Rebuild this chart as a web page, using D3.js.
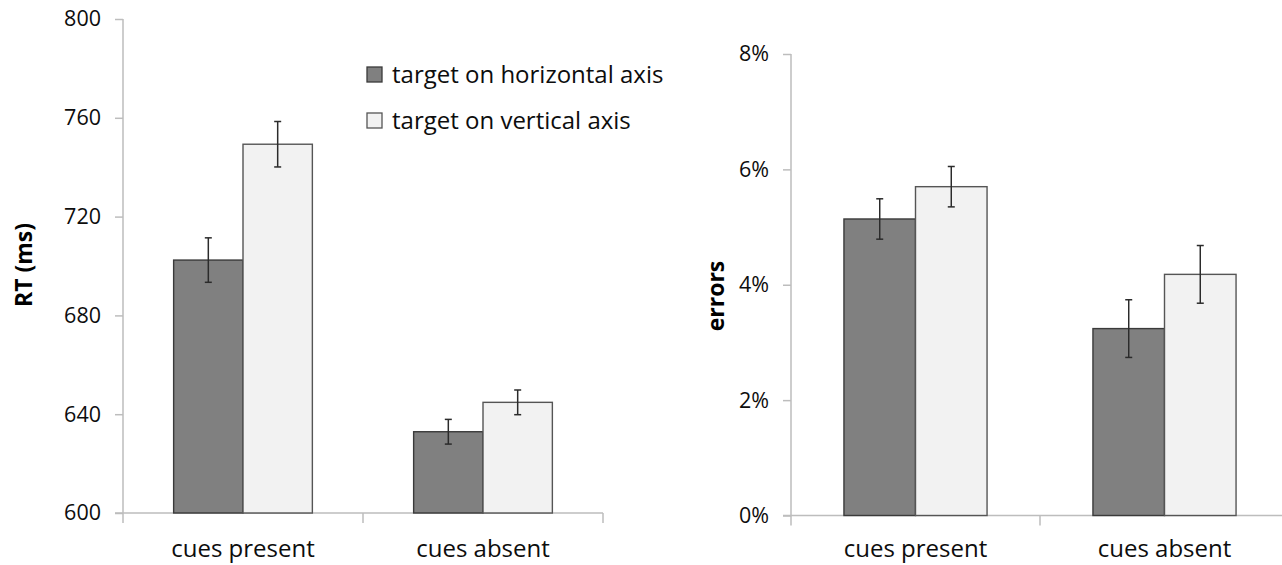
<!DOCTYPE html>
<html>
<head>
<meta charset="utf-8">
<script src="https://cdn.jsdelivr.net/npm/d3@7"></script>
<style>
  html, body { margin: 0; padding: 0; background: #fff; }
  svg { display: block; font-family: "Open Sans", "DejaVu Sans", sans-serif; }
</style>
</head>
<body>
<svg id="chart" width="1282" height="565"></svg>
<script>
// ---- data ----
const categories = ["cues present", "cues absent"];
const seriesNames = ["target on horizontal axis", "target on vertical axis"];
// RT (ms)
const rtHorizontal = [702.4, 632.9];
const rtVertical = [749.3, 644.8];
const rtHorizontalErr = [9, 5];
const rtVerticalErr = [9.2, 5];
const rtTicks = [600, 640, 680, 720, 760, 800];
// errors (proportion)
const errHorizontal = [0.0514, 0.0324];
const errVertical = [0.0570, 0.0418];
const errHorizontalErr = [0.0035, 0.0050];
const errVerticalErr = [0.0035, 0.0050];
const errTicks = [0, 0.02, 0.04, 0.06, 0.08];

const fills = ["#808080", "#f2f2f2"];
const strokes = ["#3a3a3a", "#555555"];
const axisColor = "#bdbdbd";
const textColor = "#0d0d0d";

const svg = d3.select("#chart");

function panel(opts) {
  const g = svg.append("g");
  const x0 = d3.scaleBand().domain(categories).range([opts.left, opts.right]).paddingInner(0).paddingOuter(0);
  const x1 = d3.scaleBand().domain([0, 1]).range([0, x0.bandwidth()]).paddingInner(0).paddingOuter(opts.outerPad);
  const y = d3.scaleLinear().domain(opts.domain).range([opts.bottom, opts.top]);

  // y axis line (extends below baseline)
  g.append("line")
    .attr("x1", opts.left).attr("x2", opts.left)
    .attr("y1", y(opts.domain[1])).attr("y2", y(opts.domain[0]) + 10)
    .attr("stroke", axisColor).attr("stroke-width", 1.5);

  const yAxis = d3.axisLeft(y).tickValues(opts.ticks).tickSize(8).tickPadding(14)
    .tickFormat(opts.fmt);
  const ya = g.append("g").attr("transform", `translate(${opts.left},0)`).call(yAxis);
  ya.select(".domain").remove();
  ya.selectAll(".tick line").attr("stroke", axisColor).attr("stroke-width", 1.5);
  ya.selectAll(".tick text").attr("fill", textColor).style("font-size", "21.5px")
    .style("font-family", '"Open Sans", sans-serif');

  // x axis line
  g.append("line")
    .attr("x1", opts.left - 8).attr("x2", opts.right)
    .attr("y1", y(opts.domain[0])).attr("y2", y(opts.domain[0]))
    .attr("stroke", axisColor).attr("stroke-width", 1.5);
  // x ticks at band boundaries
  const bounds = categories.map(c => x0(c) + x0.bandwidth());
  g.selectAll(".xt").data(bounds).enter().append("line")
    .attr("x1", d => d).attr("x2", d => d)
    .attr("y1", y(opts.domain[0])).attr("y2", y(opts.domain[0]) + 10)
    .attr("stroke", axisColor).attr("stroke-width", 1.5);

  // bars
  const rows = [];
  categories.forEach((c, i) => {
    opts.values.forEach((vals, s) => {
      rows.push({ c, s, v: vals[i], e: opts.errs[s][i] });
    });
  });
  g.selectAll(".bar").data(rows).enter().append("rect")
    .attr("x", d => x0(d.c) + x1(d.s))
    .attr("width", x1.bandwidth())
    .attr("y", d => y(d.v))
    .attr("height", d => y(opts.domain[0]) - y(d.v))
    .attr("fill", d => fills[d.s])
    .attr("stroke", d => strokes[d.s])
    .attr("stroke-width", 1.4);

  // error bars
  const eb = g.selectAll(".eb").data(rows).enter().append("g")
    .attr("stroke", "#2b2b2b").attr("stroke-width", 1.5);
  const cx = d => x0(d.c) + x1(d.s) + x1.bandwidth() / 2;
  eb.append("line").attr("x1", cx).attr("x2", cx)
    .attr("y1", d => y(d.v + d.e)).attr("y2", d => y(d.v - d.e));
  eb.append("line").attr("x1", d => cx(d) - 3.5).attr("x2", d => cx(d) + 3.5)
    .attr("y1", d => y(d.v + d.e)).attr("y2", d => y(d.v + d.e));
  eb.append("line").attr("x1", d => cx(d) - 3.5).attr("x2", d => cx(d) + 3.5)
    .attr("y1", d => y(d.v - d.e)).attr("y2", d => y(d.v - d.e));

  // x labels
  g.selectAll(".xl").data(categories).enter().append("text")
    .attr("x", d => x0(d) + x0.bandwidth() / 2)
    .attr("y", 557)
    .attr("text-anchor", "middle")
    .attr("fill", textColor)
    .style("font-size", "24px")
    .text(d => d);

  // y title
  g.append("text")
    .attr("transform", `translate(${opts.titleX},${opts.titleY}) rotate(-90)`)
    .attr("text-anchor", "middle")
    .attr("dominant-baseline", "central")
    .attr("fill", "#000")
    .style("font-size", "23px").style("font-weight", "bold")
    .text(opts.title);
  return g;
}

panel({
  left: 123, right: 603, top: 19, bottom: 513, outerPad: 0.73,
  domain: [600, 800], ticks: rtTicks, fmt: d3.format("d"),
  values: [rtHorizontal, rtVertical], errs: [rtHorizontalErr, rtVerticalErr],
  title: "RT (ms)", titleX: 23, titleY: 265
});

panel({
  left: 791, right: 1289, top: 54, bottom: 515.5, outerPad: 0.74,
  domain: [0, 0.08], ticks: errTicks, fmt: d3.format(".0%"),
  values: [errHorizontal, errVertical], errs: [errHorizontalErr, errVerticalErr],
  title: "errors", titleX: 715, titleY: 296
});

// legend
const legend = svg.append("g").attr("transform", "translate(367,67)");
const li = legend.selectAll(".li").data(seriesNames).enter().append("g")
  .attr("transform", (d, i) => `translate(0,${i * 46})`);
li.append("rect").attr("width", 15).attr("height", 15)
  .attr("fill", (d, i) => fills[i]).attr("stroke", (d, i) => strokes[i]).attr("stroke-width", 1.3);
li.append("text").attr("x", 25).attr("y", 16)
  .attr("fill", textColor).style("font-size", "24px").text(d => d);
</script>
</body>
</html>
